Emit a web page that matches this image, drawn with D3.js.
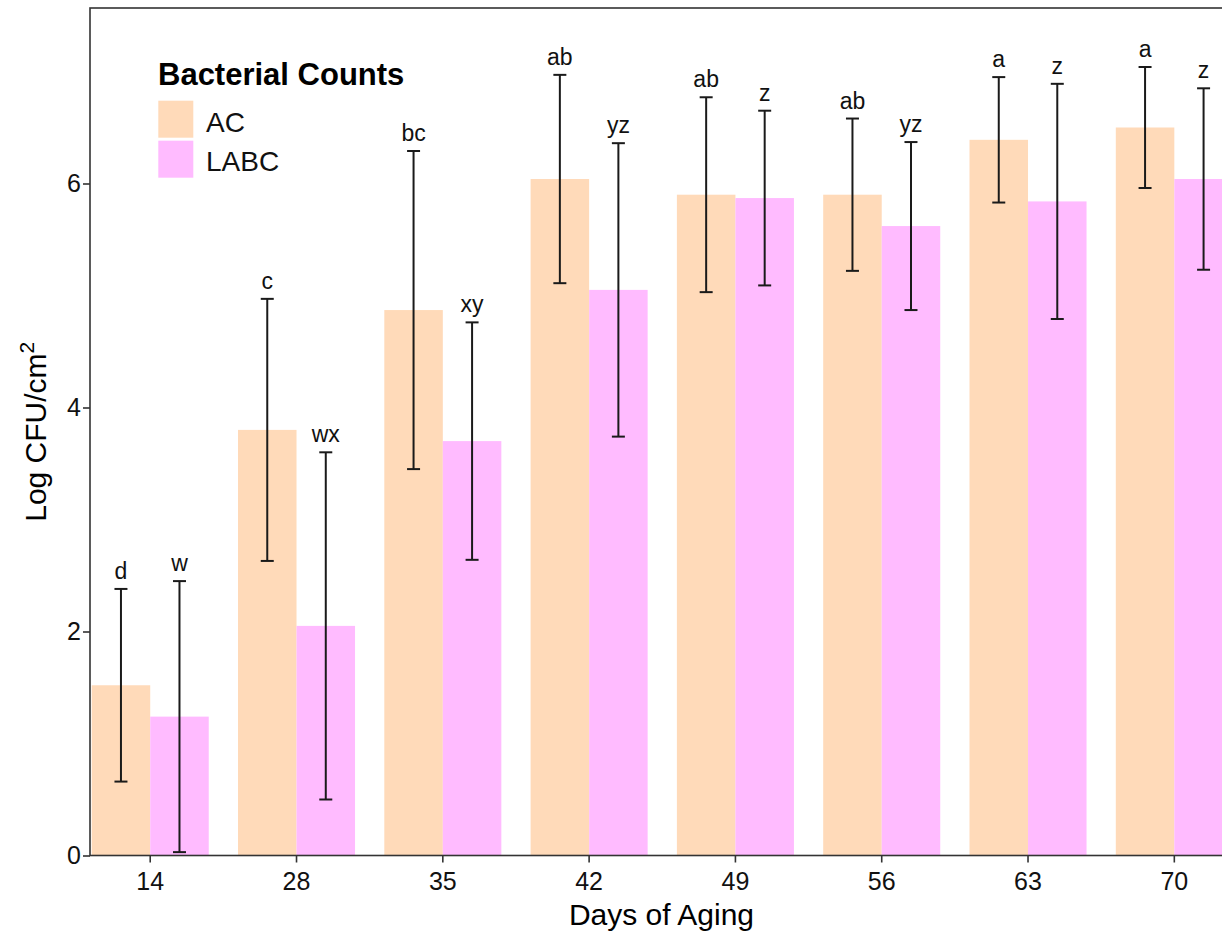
<!DOCTYPE html>
<html>
<head>
<meta charset="utf-8">
<script src="https://cdn.jsdelivr.net/npm/d3@7"></script>
<style>
  html, body { margin: 0; padding: 0; background: #fff; overflow: hidden; }
  svg { display: block; font-family: "Liberation Sans", Arial, sans-serif; }
</style>
</head>
<body>
<svg id="chart" width="1222" height="937"></svg>
<script>
// Days of aging (x categories)
const days = ["14", "28", "35", "42", "49", "56", "63", "70"];
const groups = ["AC", "LABC"];

// Mean log counts per day
const acMean   = [1.52, 3.80, 4.87, 6.04, 5.90, 5.90, 6.39, 6.50];
const labcMean = [1.24, 2.05, 3.70, 5.05, 5.87, 5.62, 5.84, 6.04];

// Error bar half-widths
const acErr   = [0.86, 1.17, 1.42, 0.93, 0.87, 0.68, 0.56, 0.54];
const labcErr = [1.21, 1.55, 1.06, 1.31, 0.78, 0.75, 1.05, 0.81];

// Significance letters
const acLetters   = ["d", "c", "bc", "ab", "ab", "ab", "a", "a"];
const labcLetters = ["w", "wx", "xy", "yz", "z", "yz", "z", "z"];

const yTicks = [0, 2, 4, 6];

const colors = { AC: "#FFDAB9", LABC: "#FFBBFF" };

const rows = [];
days.forEach((d, i) => {
  rows.push({ day: d, group: "AC", mean: acMean[i], err: acErr[i], letter: acLetters[i] });
  rows.push({ day: d, group: "LABC", mean: labcMean[i], err: labcErr[i], letter: labcLetters[i] });
});

const svg = d3.select("#chart");
const panel = { left: 90, top: 8, right: 1233, bottom: 855.5 };
const fontFam = "Liberation Sans, Arial, sans-serif";

const x = d3.scaleBand()
  .domain(days)
  .range([91.7, 91.7 + 7.8 * 146.3])
  .paddingInner(0.2)
  .paddingOuter(0);

const xInner = d3.scaleBand()
  .domain(groups)
  .range([0, x.bandwidth()]);

const y = d3.scaleLinear()
  .domain([0, (panel.bottom - panel.top) / 112])
  .range([panel.bottom, panel.top]);

// Bars
svg.append("g")
  .selectAll("rect")
  .data(rows)
  .join("rect")
  .attr("x", d => x(d.day) + xInner(d.group))
  .attr("y", d => y(d.mean))
  .attr("width", xInner.bandwidth())
  .attr("height", d => y(0) - y(d.mean))
  .attr("fill", d => colors[d.group]);

// Error bars
const eb = svg.append("g")
  .attr("stroke", "#1a1a1a")
  .attr("stroke-width", 2)
  .attr("fill", "none");
const cx = d => x(d.day) + xInner(d.group) + xInner.bandwidth() / 2;
const capHalf = 6.5;
rows.forEach(d => {
  const c = cx(d);
  const hi = y(d.mean + d.err), lo = y(Math.max(0, d.mean - d.err));
  eb.append("line").attr("x1", c).attr("x2", c).attr("y1", hi).attr("y2", lo);
  eb.append("line").attr("x1", c - capHalf).attr("x2", c + capHalf).attr("y1", hi).attr("y2", hi);
  eb.append("line").attr("x1", c - capHalf).attr("x2", c + capHalf).attr("y1", lo).attr("y2", lo);
});

// Letters above the error bars
svg.append("g")
  .selectAll("text")
  .data(rows)
  .join("text")
  .attr("x", d => cx(d))
  .attr("y", d => y(d.mean + d.err) - 10)
  .attr("text-anchor", "middle")
  .attr("font-size", 23)
  .attr("fill", "#111")
  .text(d => d.letter);

// Panel border
svg.append("rect")
  .attr("x", panel.left)
  .attr("y", panel.top)
  .attr("width", panel.right - panel.left)
  .attr("height", panel.bottom - panel.top)
  .attr("fill", "none")
  .attr("stroke", "#333")
  .attr("stroke-width", 1.6);

// Y axis
const yAxis = svg.append("g")
  .attr("transform", `translate(${panel.left},0)`)
  .call(d3.axisLeft(y).tickValues(yTicks).tickSize(7).tickPadding(2).tickFormat(d3.format("d")));
yAxis.select(".domain").remove();
yAxis.selectAll(".tick line").attr("stroke", "#333").attr("stroke-width", 1.6);
yAxis.selectAll(".tick text").attr("font-size", 25).attr("fill", "#111").attr("font-family", fontFam);

// X axis
const xAxis = svg.append("g")
  .attr("transform", `translate(0,${panel.bottom})`)
  .call(d3.axisBottom(x).tickSize(7).tickPadding(10));
xAxis.select(".domain").remove();
xAxis.selectAll(".tick line").attr("stroke", "#333").attr("stroke-width", 1.6);
xAxis.selectAll(".tick text").attr("font-size", 25).attr("fill", "#111").attr("font-family", fontFam);

// Axis titles
svg.append("text")
  .attr("x", (panel.left + panel.right) / 2)
  .attr("y", 925)
  .attr("text-anchor", "middle")
  .attr("font-size", 30)
  .attr("fill", "#000")
  .text("Days of Aging");

const yTitle = svg.append("text")
  .attr("transform", `translate(46,${(panel.top + panel.bottom) / 2}) rotate(-90)`)
  .attr("text-anchor", "middle")
  .attr("font-size", 30)
  .attr("fill", "#000");
yTitle.append("tspan").text("Log CFU/cm");
yTitle.append("tspan").attr("dy", -12).attr("font-size", 21).text("2");

// Legend
const legend = svg.append("g");
legend.append("text")
  .attr("x", 158).attr("y", 84.5)
  .attr("font-size", 31).attr("font-weight", "bold").attr("fill", "#000")
  .text("Bacterial Counts");
groups.forEach((g, i) => {
  legend.append("rect")
    .attr("x", 158.3).attr("y", 100.7 + i * 40)
    .attr("width", 35).attr("height", 37)
    .attr("fill", colors[g]);
  legend.append("text")
    .attr("x", 206).attr("y", 131.7 + i * 39)
    .attr("font-size", 28).attr("fill", "#111")
    .text(g);
});
</script>
</body>
</html>
